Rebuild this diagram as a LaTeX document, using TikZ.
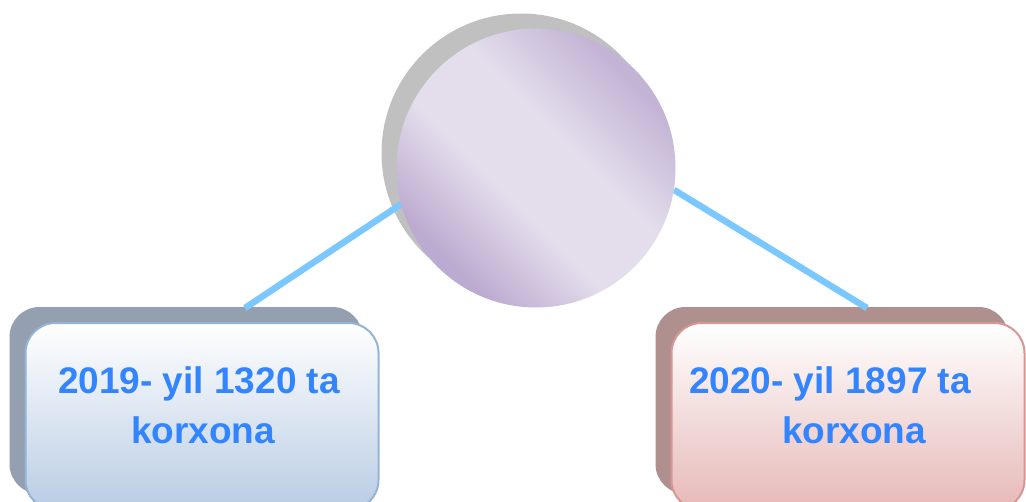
\documentclass[tikz,border=0pt]{standalone}
\usepackage{fontspec}
\setmainfont{Liberation Sans}
\definecolor{txtblue}{HTML}{3385FF}
\definecolor{linkblue}{HTML}{7AC8FF}
\definecolor{orbdk}{HTML}{BCABD0}
\definecolor{orbdkb}{HTML}{C3B4D5}
\definecolor{orblt}{HTML}{E4DEEC}
\definecolor{orbshadow}{HTML}{C0C0C0}
\definecolor{lshadow}{HTML}{94A0B0}
\definecolor{lfill}{HTML}{B9CCE4}
\definecolor{lborder}{HTML}{95B3D7}
\definecolor{rshadow}{HTML}{AF908F}
\definecolor{rfill}{HTML}{E6B9B8}
\definecolor{rborder}{HTML}{D99694}
\pgfdeclareverticalshading{orbsh}{100bp}{color(0bp)=(orbdk); color(27bp)=(orbdk); color(43bp)=(orblt); color(57bp)=(orblt); color(73bp)=(orbdkb); color(100bp)=(orbdkb)}
\tikzset{
  orb/.style={circle, minimum size=279pt, inner sep=0pt, draw=none},
  boxshape/.style={rectangle, rounded corners=30pt, minimum width=353pt, minimum height=187pt, inner sep=0pt},
  link/.style={draw=linkblue, line width=6.5pt},
  lbl/.style={anchor=base, text=txtblue, font=\fontsize{37pt}{40pt}\selectfont\bfseries, inner sep=0pt}
}
\begin{document}
\begin{tikzpicture}[x=1pt,y=-1pt]
\useasboundingbox (0,0) rectangle (1026,501);
% shadows
\node[orb, fill=orbshadow] (cs) at (521,153) {};
\node[boxshape, fill=lshadow] (ls) at (186,400.5) {};
\node[boxshape, fill=rshadow] (rs) at (832,400.5) {};
% connectors
\coordinate (lend) at (245,308);
\coordinate (rend) at (867,308);
\node[orb] (c) at (536,168) {};
\draw[link] (c.195.8) -- (lend);
\draw[link] (c.-9.2) -- (rend);
% main shapes
\node[orb, shading=orbsh, shading angle=-45] (cm) at (536,168) {};
\node[boxshape, top color=white, bottom color=lfill, draw=lborder, line width=2pt] (l) at (202,416.5) {};
\node[boxshape, top color=white, bottom color=rfill, draw=rborder, line width=2pt] (r) at (848,416.5) {};
% labels
\node[lbl] (l1) at (199,393) {2019- yil 1320 ta};
\node[lbl] (l2) at (203,443) {korxona};
\node[lbl] (r1) at (830,393) {2020- yil 1897 ta};
\node[lbl] (r2) at (854,443) {korxona};
\end{tikzpicture}
\end{document}
